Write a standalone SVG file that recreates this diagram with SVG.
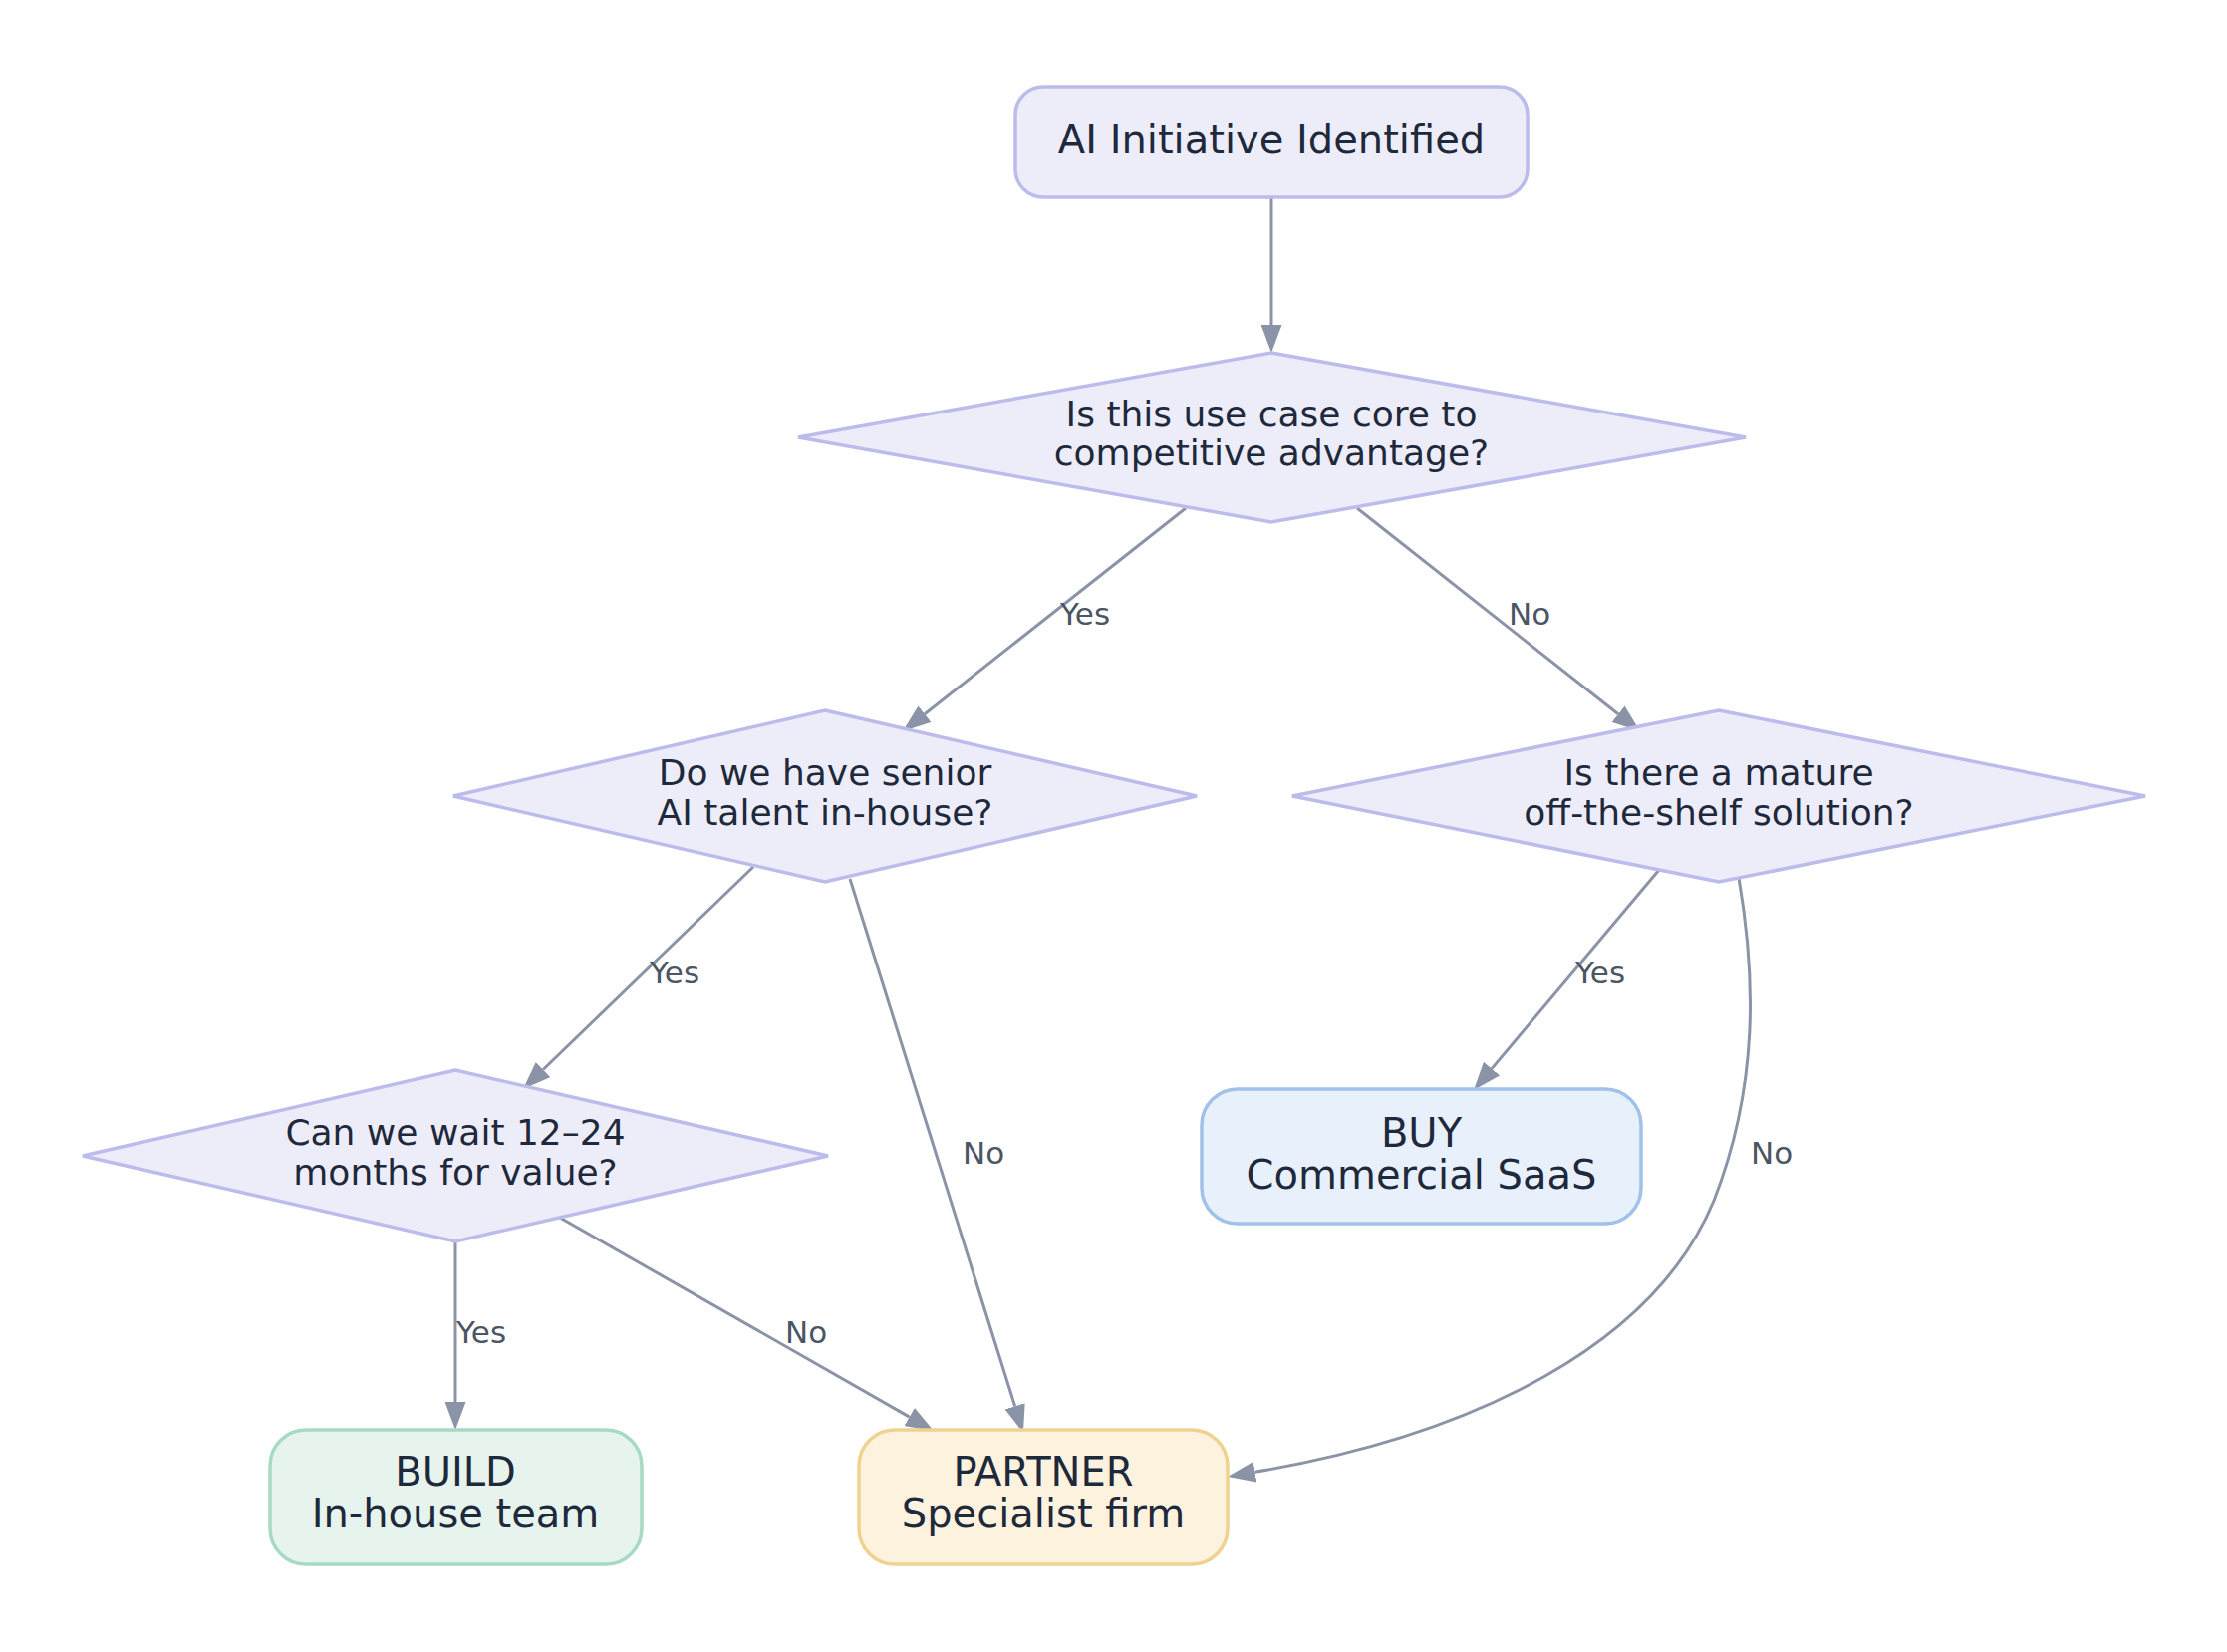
<svg xmlns="http://www.w3.org/2000/svg" width="2235" height="1658" viewBox="0 0 2235 1658">
<defs>
<style>
.node{fill:#ededfa;stroke:#bcbcec;stroke-width:3.5}
.buy{fill:#e8f1fb;stroke:#a0c2e8;stroke-width:3.5}
.build{fill:#e6f4ed;stroke:#a6dac3;stroke-width:3.5}
.partner{fill:#fdf2de;stroke:#efd28f;stroke-width:3.5}
.t{font-family:"DejaVu Sans","Liberation Sans",sans-serif;fill:#1e293b;text-anchor:middle}
.t40{font-size:40px}
.t36{font-size:36px}
.edge{fill:none;stroke:#8a94a6;stroke-width:3}
.lbl{font-family:"DejaVu Sans","Liberation Sans",sans-serif;font-size:31px;fill:#4b5563}
</style>
<marker id="arr" markerUnits="userSpaceOnUse" markerWidth="28" markerHeight="21" refX="0" refY="10.5" orient="auto">
<path d="M0,0 L28,10.5 L0,21 z" fill="#8a94a6"/>
</marker>
</defs>
<rect width="2235" height="1658" fill="#ffffff"/>
<g id="edges">
<path class="edge" marker-end="url(#arr)" d="M1276,198 L1276,326"/>
<path class="edge" marker-end="url(#arr)" d="M1190,510 L928,716.7"/>
<path class="edge" marker-end="url(#arr)" d="M1362,510 L1624,716.7"/>
<path class="edge" marker-end="url(#arr)" d="M756,870 L545.1,1073.5"/>
<path class="edge" marker-end="url(#arr)" d="M853,882 L1018.6,1411.3"/>
<path class="edge" marker-end="url(#arr)" d="M1665,873 L1497,1072.6"/>
<path class="edge" marker-end="url(#arr)" d="M1745,881 C1762,980 1765,1090 1720,1205 C1660,1350 1480,1440 1259.6,1477.3"/>
<path class="edge" marker-end="url(#arr)" d="M457,1245 L457,1407"/>
<path class="edge" marker-end="url(#arr)" d="M562,1222 L912.7,1422.1"/>
<text class="lbl" x="1064" y="627">Yes</text>
<text class="lbl" x="1514" y="627">No</text>
<text class="lbl" x="652" y="987">Yes</text>
<text class="lbl" x="966" y="1168">No</text>
<text class="lbl" x="1581" y="987">Yes</text>
<text class="lbl" x="1757" y="1168">No</text>
<text class="lbl" x="458" y="1348">Yes</text>
<text class="lbl" x="788" y="1348">No</text>
</g>
<g id="start">
<rect class="node" x="1019" y="87" width="514" height="111" rx="28"/>
<text class="t t40" x="1276" y="154">AI Initiative Identified</text>
</g>
<g id="core">
<polygon class="node" points="1276,354 1752,439 1276,524 801,439"/>
<text class="t t36" x="1276" y="428">Is this use case core to</text>
<text class="t t36" x="1276" y="467">competitive advantage?</text>
</g>
<g id="talent">
<polygon class="node" points="828,713 1201,799 828,885 455,799"/>
<text class="t t36" x="828" y="788">Do we have senior</text>
<text class="t t36" x="828" y="828">AI talent in-house?</text>
</g>
<g id="mature">
<polygon class="node" points="1725,713 2153,799 1725,885 1297,799"/>
<text class="t t36" x="1725" y="788">Is there a mature</text>
<text class="t t36" x="1725" y="828">off-the-shelf solution?</text>
</g>
<g id="wait">
<polygon class="node" points="457,1074 831,1160 457,1246 83,1160"/>
<text class="t t36" x="457" y="1149">Can we wait 12–24</text>
<text class="t t36" x="457" y="1189">months for value?</text>
</g>
<g id="buy">
<rect class="buy" x="1206" y="1093" width="441" height="135" rx="36"/>
<text class="t t40" x="1426.5" y="1151">BUY</text>
<text class="t t40" x="1426.5" y="1193">Commercial SaaS</text>
</g>
<g id="build">
<rect class="build" x="271" y="1435" width="373" height="135" rx="36"/>
<text class="t t40" x="457" y="1491">BUILD</text>
<text class="t t40" x="457" y="1533">In-house team</text>
</g>
<g id="partner">
<rect class="partner" x="862" y="1435" width="370" height="135" rx="36"/>
<text class="t t40" x="1047" y="1491">PARTNER</text>
<text class="t t40" x="1047" y="1533">Specialist firm</text>
</g>
</svg>
